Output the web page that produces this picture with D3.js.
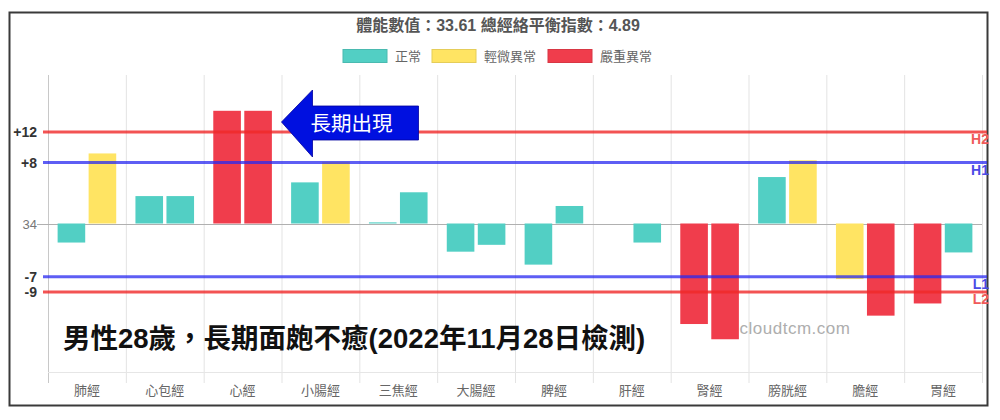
<!DOCTYPE html>
<html>
<head>
<meta charset="utf-8">
<script src="https://cdn.jsdelivr.net/npm/d3@7"></script>
<style>
  html, body { margin: 0; padding: 0; background: #fff; }
  svg { display: block; }
  text { font-family: "Liberation Sans", Arial, "Noto Sans CJK TC", sans-serif; }
</style>
</head>
<body>
<svg id="chart" width="1000" height="420"></svg>
<script>
// ---- data ----
const titleText = "體能數值：33.61 總經絡平衡指數：4.89";
const categories = ["肺經","心包經","心經","小腸經","三焦經","大腸經","脾經","肝經","腎經","膀胱經","膽經","胃經"];
const leftValues  = [-2.5, 3.6, 14.8, 5.4, 0.15, -3.7, -5.4, 0, -13.2, 6.1, -7.3, -10.5];
const rightValues = [ 9.2, 3.6, 14.8, 8.1, 4.1, -2.8,  2.3, -2.5, -15.2, 8.3, -12.1, -3.8];
const seriesNames = ["left", "right"];
const legendLabels = ["正常", "輕微異常", "嚴重異常"];
const tickValues = [12, 8, 0, -7, -9];
const tickLabels = ["+12", "+8", "34", "-7", "-9"];
const thresholdValues = [12, 8, -7, -9];
const thresholdNames  = ["H2", "H1", "L1", "L2"];
const annotationText = "男性28歲，長期面皰不癒(2022年11月28日檢測)";
const arrowText = "長期出現";
const watermarkText = "cloudtcm.com";

// ---- styles ----
const COLORS = { normal: "#52cfc4", mild: "#ffe463", severe: "#f03d4c" };
const legendColors = [COLORS.normal, COLORS.mild, COLORS.severe];
const lineColors = { H2: "rgba(240,40,40,0.8)", H1: "rgba(40,40,240,0.75)", L1: "rgba(40,40,240,0.75)", L2: "rgba(240,40,40,0.8)" };
const labelColors = { H2: "#f05a5a", H1: "#4b4be6", L1: "#4b4be6", L2: "#f05a5a" };

function statusColor(v) {
  if (v > 12 || v < -9) return COLORS.severe;
  if (v > 8 || v < -7) return COLORS.mild;
  return COLORS.normal;
}

const svg = d3.select("#chart");
const W = 1000, H = 420;
svg.append("rect").attr("width", W).attr("height", H).attr("fill", "#fff");

const plot = { left: 48, right: 982, top: 75, bottom: 372 };

const x = d3.scaleBand().domain(categories).range([plot.left, plot.right]).padding(0);
const groupW = x.bandwidth() * 0.753;
const xs = d3.scaleBand().domain(seriesNames).range([0, groupW]).paddingInner(0.11);
const y = d3.scaleLinear().domain([-19.5, 19.5]).range([plot.bottom, plot.top]);

// frame
svg.append("rect")
  .attr("x", 9.5).attr("y", 12.5).attr("width", 978).attr("height", 393)
  .attr("fill", "none").attr("stroke", "#3a3a3a").attr("stroke-width", 2);

// title
svg.append("text").attr("x", 498).attr("y", 31).attr("text-anchor", "middle")
  .attr("font-size", 16).attr("font-weight", "bold").attr("fill", "#555")
  .text(titleText);

// legend
const legendX = [343, 432, 548];
legendLabels.forEach((lab, i) => {
  svg.append("rect").attr("x", legendX[i]).attr("y", 49.5).attr("width", 44).attr("height", 13)
    .attr("fill", legendColors[i]).attr("stroke", d3.color(legendColors[i]).darker(0.3)).attr("stroke-width", 1);
  svg.append("text").attr("x", legendX[i] + 52).attr("y", 61)
    .attr("font-size", 13).attr("fill", "#666").text(lab);
});

// vertical grid lines (category boundaries)
const bounds = categories.map(c => x(c)).concat([plot.right]);
svg.append("g").selectAll("line").data(bounds).join("line")
  .attr("x1", d => d + 0.5).attr("x2", d => d + 0.5)
  .attr("y1", plot.top).attr("y2", plot.bottom + 11)
  .attr("stroke", "#e3e3e3").attr("stroke-width", 1);
svg.append("line").attr("x1", plot.left + 0.5).attr("x2", plot.left + 0.5)
  .attr("y1", plot.top).attr("y2", plot.bottom + 11).attr("stroke", "#c8c8c8");

// bottom grid line
svg.append("line").attr("x1", plot.left).attr("x2", plot.right)
  .attr("y1", plot.bottom + 0.5).attr("y2", plot.bottom + 0.5).attr("stroke", "#e6e6e6");

// zero line
svg.append("line").attr("x1", 37).attr("x2", plot.right)
  .attr("y1", Math.round(y(0)) + 0.5).attr("y2", Math.round(y(0)) + 0.5)
  .attr("stroke", "#b0b0b0").attr("stroke-width", 1);

// x labels
svg.append("g").selectAll("text").data(categories).join("text")
  .attr("x", d => x(d) + x.bandwidth() / 2).attr("y", 395)
  .attr("text-anchor", "middle").attr("font-size", 13).attr("fill", "#666")
  .text(d => d);

// bars
const barData = [];
categories.forEach((c, i) => {
  barData.push({ cat: c, s: "left", v: leftValues[i] });
  barData.push({ cat: c, s: "right", v: rightValues[i] });
});
const gOff = (x.bandwidth() - groupW) / 2;
svg.append("g").selectAll("rect").data(barData.filter(d => d.v !== 0)).join("rect")
  .attr("x", d => x(d.cat) + gOff + xs(d.s))
  .attr("width", xs.bandwidth())
  .attr("y", d => Math.min(y(d.v), y(0)))
  .attr("height", d => Math.abs(y(d.v) - y(0)))
  .attr("fill", d => statusColor(d.v));

// threshold lines
thresholdValues.forEach((v, i) => {
  const nm = thresholdNames[i];
  svg.append("line").attr("x1", 43).attr("x2", 987)
    .attr("y1", y(v)).attr("y2", y(v))
    .attr("stroke", lineColors[nm]).attr("stroke-width", 3);
  svg.append("text").attr("x", 989).attr("y", y(v) + 12).attr("text-anchor", "end")
    .attr("font-size", 14).attr("font-weight", "bold").attr("fill", labelColors[nm]).text(nm);
});

// y tick labels
tickValues.forEach((v, i) => {
  const isZero = v === 0;
  svg.append("text").attr("x", 37).attr("y", y(v) + 5)
    .attr("text-anchor", "end")
    .attr("font-size", isZero ? 13 : 14)
    .attr("font-weight", isZero ? "normal" : "bold")
    .attr("fill", isZero ? "#777" : "#333")
    .text(tickLabels[i]);
});

// arrow annotation (points at 心經 bars)
const tipX = x(categories[3]), tipY = 122;
const arrow = d3.path();
arrow.moveTo(tipX, tipY);
arrow.lineTo(tipX + 31, tipY - 32);
arrow.lineTo(tipX + 31, tipY - 16);
arrow.lineTo(tipX + 137, tipY - 16);
arrow.lineTo(tipX + 137, tipY + 18);
arrow.lineTo(tipX + 31, tipY + 18);
arrow.lineTo(tipX + 31, tipY + 35);
arrow.closePath();
svg.append("path").attr("d", arrow.toString()).attr("fill", "#0010e0")
  .attr("stroke", "#0000a0").attr("stroke-width", 0.8);
svg.append("text").attr("x", tipX + 70).attr("y", tipY + 9).attr("text-anchor", "middle")
  .attr("font-size", 20.5).attr("fill", "#fff").text(arrowText);

// watermark
svg.append("text").attr("x", 795).attr("y", 334).attr("text-anchor", "middle")
  .attr("font-size", 17).attr("fill", "#9a9a9a").attr("opacity", 0.8)
  .attr("letter-spacing", 0.5).text(watermarkText);

// big annotation text
svg.append("text").attr("x", 63).attr("y", 348)
  .attr("font-size", 27.5).attr("font-weight", "bold").attr("fill", "#111")
  .text(annotationText);
</script>
</body>
</html>
